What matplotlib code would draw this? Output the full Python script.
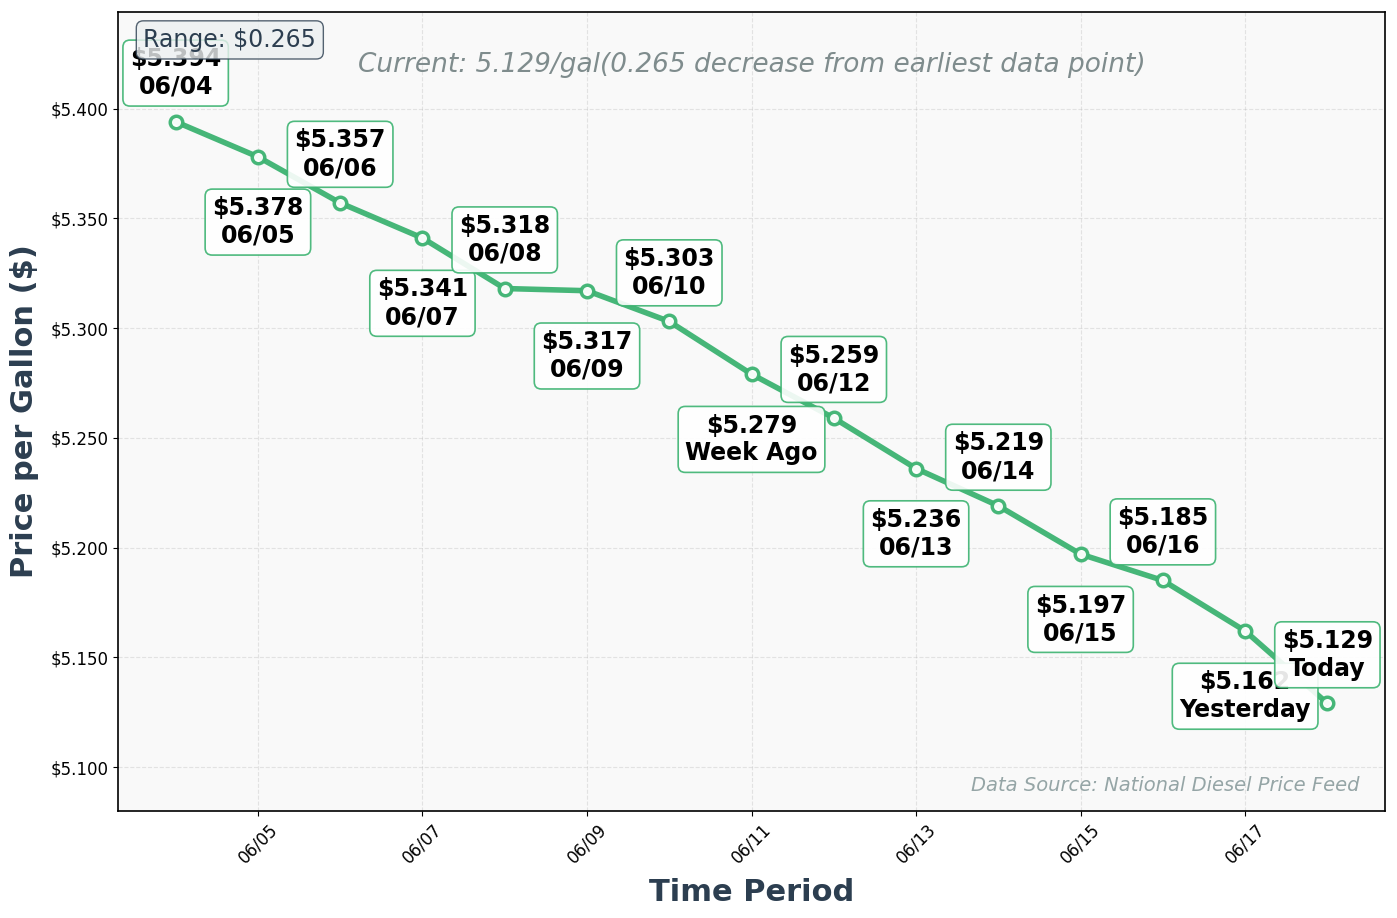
import numpy as np
import pandas as pd
import matplotlib.pyplot as plt
import matplotlib.dates as mdates

# diesel price series, one point per day
dates = pd.date_range('2024-06-04', '2024-06-18', freq='D')
prices = [5.394, 5.378, 5.357, 5.341, 5.318, 5.317, 5.303, 5.279,
          5.259, 5.236, 5.219, 5.197, 5.185, 5.162, 5.129]
special = {7: 'Week Ago', 13: 'Yesterday', 14: 'Today'}

green = '#3cb371'
dark = '#2c3e50'

fig, ax = plt.subplots(figsize=(13.97, 9.18), dpi=100)
fig.subplots_adjust(left=0.0845, right=0.9914, bottom=0.1166, top=0.987)
ax.set_facecolor('#f9f9f9')

ax.plot(dates, prices, color=green, linewidth=4, marker='o', markersize=9,
        markerfacecolor='white', markeredgecolor=green, markeredgewidth=2.5,
        alpha=0.95, zorder=3)

for i, (d, p) in enumerate(zip(dates, prices)):
    lab = special.get(i, d.strftime('%m/%d'))
    off = 35 if i % 2 == 0 else -47
    ax.annotate('${:.3f}\n{}'.format(p, lab), xy=(d, p), xytext=(0, off),
                textcoords='offset points', ha='center', va='center',
                fontsize=17, fontweight='bold', color='black', zorder=5,
                bbox=dict(boxstyle='round,pad=0.3', facecolor='white',
                          edgecolor=green, linewidth=1.2, alpha=0.9))

ax.set_ylim(5.080, 5.444)
ax.yaxis.set_major_formatter(plt.FuncFormatter(lambda v, _: '${:.3f}'.format(v)))
ax.xaxis.set_major_locator(mdates.DayLocator(bymonthday=range(1, 32, 2)))
ax.xaxis.set_major_formatter(mdates.DateFormatter('%m/%d'))
plt.setp(ax.get_xticklabels(), rotation=45, fontsize=12)
plt.setp(ax.get_yticklabels(), fontsize=12)

ax.grid(True, linestyle='--', alpha=0.3)
for s in ax.spines.values():
    s.set_linewidth(1.2)

ax.set_xlabel('Time Period', fontsize=22, fontweight='bold', color=dark, labelpad=8)
ax.set_ylabel('Price per Gallon ($)', fontsize=22, fontweight='bold', color=dark, labelpad=8)

rng = prices[0] - prices[-1]
ax.text(0.5, 0.934, 'Current: {:.3f}/gal({:.3f} decrease from earliest data point)'.format(prices[-1], rng),
        transform=ax.transAxes, ha='center', va='center', fontsize=19,
        style='italic', color='#7f8c8d')
ax.text(0.02, 0.98, 'Range: ${:.3f}'.format(rng), transform=ax.transAxes,
        ha='left', va='top', fontsize=17, color=dark, zorder=6,
        bbox=dict(boxstyle='round,pad=0.3', facecolor='#ecf0f1',
                  edgecolor=dark, alpha=0.8))
ax.text(0.98, 0.02, 'Data Source: National Diesel Price Feed', transform=ax.transAxes,
        ha='right', va='bottom', fontsize=14, style='italic', color='#95a5a6')

plt.savefig('out.png', dpi=100)
